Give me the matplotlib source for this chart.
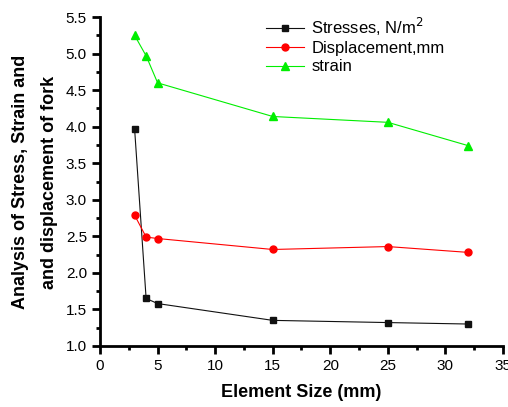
import numpy as np
import matplotlib.pyplot as plt
from matplotlib.ticker import MultipleLocator

plt.rcParams['font.family'] = ['Liberation Sans', 'DejaVu Sans']

# element sizes (mm)
element_size = [3, 4, 5, 15, 25, 32]

# values
stresses = [3.97, 1.65, 1.58, 1.35, 1.32, 1.30]
displacement = [2.79, 2.49, 2.47, 2.32, 2.36, 2.28]
strain = [5.25, 4.97, 4.60, 4.14, 4.06, 3.74]

ylabel_lines = ['Analysis of Stress, Strain and', 'and displacement of fork']

fig = plt.figure(figsize=(5.08, 4.07), dpi=100)
ax = fig.add_axes([0.197, 0.150, 0.793, 0.808])

ax.plot(element_size, stresses, color='#111111', lw=0.8, marker='s', ms=5,
        label='Stresses, N/m$^2$')
ax.plot(element_size, displacement, color='red', lw=0.8, marker='o', ms=5,
        label='Displacement,mm')
ax.plot(element_size, strain, color='#00ee00', lw=0.8, marker='^', ms=6,
        label='strain')

ax.set_xlim(0, 35)
ax.set_ylim(1.0, 5.5)
ax.xaxis.set_major_locator(MultipleLocator(5))
ax.xaxis.set_minor_locator(MultipleLocator(2.5))
ax.yaxis.set_major_locator(MultipleLocator(0.5))
ax.yaxis.set_minor_locator(MultipleLocator(0.25))
ax.yaxis.set_major_formatter(plt.FormatStrFormatter('%.1f'))

for s in ['top', 'right']:
    ax.spines[s].set_visible(False)
for s in ['left', 'bottom']:
    ax.spines[s].set_linewidth(2)

ax.tick_params(which='major', direction='out', length=6, width=2, labelsize=11)
ax.tick_params(which='minor', direction='out', length=3, width=2)

ax.set_xlabel('Element Size (mm)', fontsize=13, fontweight='bold', labelpad=8)

# two-line y label, each line centred on its own
for xpos, line in zip([0.040, 0.097], ylabel_lines):
    fig.text(xpos, 0.552, line, rotation=90, ha='center', va='center',
             fontsize=13, fontweight='bold')

ax.legend(loc='upper left', bbox_to_anchor=(0.375, 1.05), frameon=False,
          fontsize=12, handlelength=2.3, labelspacing=0.2, handletextpad=0.4)

fig.savefig('out.png', dpi=100)
